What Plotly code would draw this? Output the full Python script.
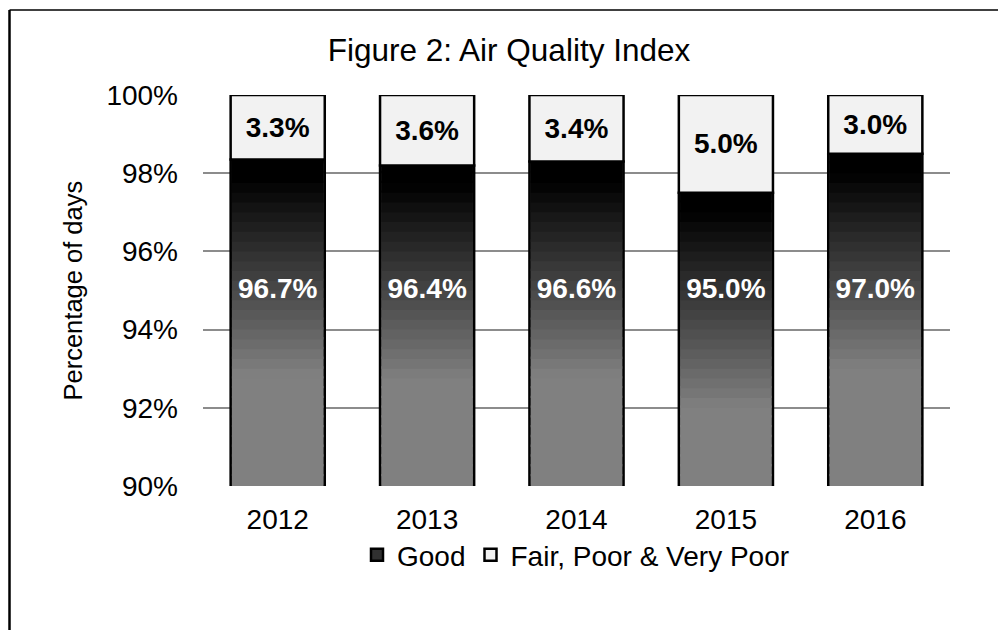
import plotly.graph_objects as go

# values
years = ['2012', '2013', '2014', '2015', '2016']
good_pct = [96.7, 96.4, 96.6, 95.0, 97.0]
fair_pct = [3.3, 3.6, 3.4, 5.0, 3.0]
# where the good/fair boundary is drawn on the 90-100% axis
good_top = [98.35, 98.2, 98.3, 97.5, 98.5]

FONT = 'Liberation Sans, Arial, sans-serif'
AXIS_MIN = 90
STEP = 0.25
BAR_W = 0.63

W, H = 998, 630
L, R, T, B = 203, 48, 95, 144
PW, PH = W - L - R, H - T - B

def shade(v, top):
    # black near the top of the bar fading to mid grey lower down
    d = top - v
    if d < 0.5:
        g = 0
    elif d > 5.5:
        g = 128
    else:
        g = round(128 * (d - 0.5) / 5)
    return 'rgb(%d,%d,%d)' % (g, g, g)

fig = go.Figure()

# Good bar (legend + outline)
fig.add_trace(go.Bar(x=years, y=[t - AXIS_MIN for t in good_top], base=AXIS_MIN,
                     name='Good', width=BAR_W,
                     marker=dict(color='#303030', line=dict(color='black', width=2.5))))

# gradient bands, slightly overlapping to hide seams
n = int(round(10 / STEP))
for k in range(n):
    lo = AXIS_MIN + k * STEP
    hs, cs = [], []
    for t in good_top:
        h = max(0, min(STEP + 0.06, t - lo))
        hs.append(h)
        cs.append(shade(lo + STEP / 2, t))
    fig.add_trace(go.Bar(x=years, y=hs, base=lo, width=BAR_W - 0.017,
                         marker=dict(color=cs, line=dict(width=0)),
                         showlegend=False, hoverinfo='skip'))

# Fair, Poor & Very Poor
fig.add_trace(go.Bar(x=years, y=[100 - t for t in good_top], base=good_top,
                     name='Fair, Poor & Very Poor', width=BAR_W,
                     marker=dict(color='#f2f2f2', line=dict(color='black', width=2.5)),
                     text=['%.1f%%' % v for v in fair_pct], textposition='inside',
                     insidetextanchor='middle', constraintext='none',
                     textfont=dict(family=FONT, size=28, color='black', weight='bold')))

# Good labels
fig.add_trace(go.Scatter(x=years, y=[95] * len(years), mode='text',
                         text=['%.1f%%' % v for v in good_pct], showlegend=False,
                         textfont=dict(family=FONT, size=28, color='white', weight='bold'),
                         hoverinfo='skip'))

fig.update_layout(
    width=W, height=H,
    margin=dict(l=L, r=R, t=T, b=B),
    barmode='overlay',
    paper_bgcolor='white', plot_bgcolor='white',
    font=dict(family=FONT, size=28, color='black'),
    title=dict(text='Figure 2: Air Quality Index', x=509 / W, xanchor='center',
               y=1 - 50 / H, yanchor='middle', yref='container',
               font=dict(family=FONT, size=31.5, color='black')),
    legend=dict(orientation='h', x=(576 - L) / PW, xanchor='center',
                y=-(555 - (T + PH)) / PH, yanchor='middle',
                font=dict(family=FONT, size=28), itemwidth=30, traceorder='normal'),
    showlegend=True,
)
fig.update_xaxes(type='category', showgrid=False, showline=False, ticks='',
                 ticklabelstandoff=14, tickfont=dict(size=28))
fig.update_yaxes(range=[90, 100], dtick=2, ticksuffix='%', showgrid=True,
                 gridcolor='#8c8c8c', gridwidth=1.5, zeroline=False, showline=False,
                 ticks='', ticklabelstandoff=24, tickfont=dict(size=28))

fig.add_annotation(text='Percentage of days', xref='paper', yref='paper',
                   x=(72 - L) / PW, xanchor='center', y=0.5, yanchor='middle',
                   textangle=-90, showarrow=False,
                   font=dict(family=FONT, size=25.5))

# outer frame (top and left edges only visible)
fig.add_shape(type='line', xref='paper', yref='paper',
              x0=(9.5 - L) / PW, x1=(W + 5 - L) / PW,
              y0=(T + PH - 10) / PH, y1=(T + PH - 10) / PH,
              line=dict(color='#404040', width=2))
fig.add_shape(type='line', xref='paper', yref='paper',
              x0=(9.5 - L) / PW, x1=(9.5 - L) / PW,
              y0=(T + PH - 10) / PH, y1=(T + PH - H - 5) / PH,
              line=dict(color='black', width=2.5))

fig.write_html('out.html', config={'displayModeBar': False},
               post_script="document.body.style.margin='0';document.body.style.overflow='hidden';")
